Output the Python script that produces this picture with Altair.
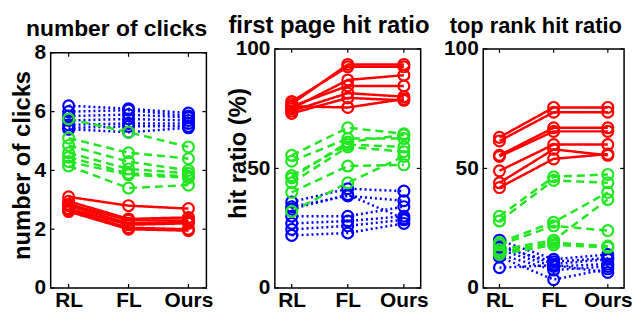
import altair as alt
import pandas as pd

cats = ["RL", "FL", "Ours"]
cat_pos = [1, 2, 3]
groups = ["blue", "green", "red"]

# number of clicks
clicks_red_RL = [3.1, 2.95, 2.85, 2.8, 2.7, 2.65, 2.6]
clicks_red_FL = [2.8, 2.35, 2.3, 2.2, 2.15, 2.05, 2.0]
clicks_red_Ours = [2.7, 2.4, 2.3, 2.25, 2.2, 2.0, 1.95]
clicks_green_RL = [5.75, 5.1, 4.85, 4.6, 4.45, 4.3, 4.15]
clicks_green_FL = [5.3, 4.6, 4.3, 4.05, 3.9, 3.85, 3.4]
clicks_green_Ours = [4.8, 4.4, 4.0, 3.9, 3.8, 3.75, 3.5]
clicks_blue_RL = [6.2, 6.0, 5.85, 5.7, 5.55, 5.45, 5.4]
clicks_blue_FL = [6.1, 6.05, 5.9, 5.75, 5.6, 5.5, 5.3]
clicks_blue_Ours = [5.95, 5.85, 5.8, 5.7, 5.6, 5.5, 5.45]

# first page hit ratio (%)
fp_red_RL = [77, 78, 75, 76, 74, 73, 76]
fp_red_FL = [93.5, 92.5, 87, 84.5, 81.5, 79.5, 75.5]
fp_red_Ours = [93.5, 92.5, 89, 84.5, 80, 78.5, 79]
fp_green_RL = [55.5, 53, 47, 44, 40, 32, 46]
fp_green_FL = [67, 62.5, 60, 59, 51, 44, 61]
fp_green_Ours = [64.5, 62.5, 59, 57, 51.5, 55, 64]
fp_blue_RL = [36, 34, 30, 27, 24.5, 22, 33]
fp_blue_FL = [41.5, 38.5, 30, 28, 26, 23, 39]
fp_blue_Ours = [40.5, 36.5, 34, 30, 28.5, 27, 29]

# top rank hit ratio (%)
tr_red_RL = [63, 61.5, 55.5, 55, 49, 44, 42]
tr_red_FL = [75.5, 73.5, 67, 65.5, 60, 58, 54]
tr_red_Ours = [75.5, 73.5, 67, 65.5, 60, 55.5, 56]
tr_green_RL = [30, 28, 19, 18, 16, 14, 15]
tr_green_FL = [46.5, 45, 27.5, 26, 20, 18, 19]
tr_green_Ours = [47.5, 44, 40, 24, 37, 17, 17.5]
tr_blue_RL = [20, 18, 16, 14, 13, 8.5, 17]
tr_blue_FL = [12, 10, 9, 7.5, 3.5, 9.5, 11]
tr_blue_Ours = [14, 12, 10, 9, 8, 6.5, 12.5]

panel_titles = ["number of clicks", "first page hit ratio", "top rank hit ratio"]
y_titles = ["number of clicks", "hit ratio (%)", ""]
y_ticks = [[0, 2, 4, 6, 8], [0, 50, 100], [0, 50, 100]]
y_domains = [[0, 8], [0, 100], [0, 100]]

panel_data = [
    {"red": [clicks_red_RL, clicks_red_FL, clicks_red_Ours],
     "green": [clicks_green_RL, clicks_green_FL, clicks_green_Ours],
     "blue": [clicks_blue_RL, clicks_blue_FL, clicks_blue_Ours]},
    {"red": [fp_red_RL, fp_red_FL, fp_red_Ours],
     "green": [fp_green_RL, fp_green_FL, fp_green_Ours],
     "blue": [fp_blue_RL, fp_blue_FL, fp_blue_Ours]},
    {"red": [tr_red_RL, tr_red_FL, tr_red_Ours],
     "green": [tr_green_RL, tr_green_FL, tr_green_Ours],
     "blue": [tr_blue_RL, tr_blue_FL, tr_blue_Ours]},
]

color_scale = alt.Scale(domain=["red", "green", "blue"],
                        range=["#ff0000", "#22e622", "#0000ff"])
dash_scale = alt.Scale(domain=["red", "green", "blue"],
                       range=[[1, 0], [8, 5], [2, 3]])

FONT = "Liberation Sans"
H = 243
widths = [157, 147, 142]
top_inset = [6, 2, 2]
title_sizes = [23, 24, 22]
title_dx = [-12, -19, -18]
title_x = [-28, -37, -30]
title_y = [119, 107, 119]

label_expr = "datum.value == 1 ? 'RL' : datum.value == 2 ? 'FL' : 'Ours'"


def make_panel(i):
    W = widths[i]
    T = top_inset[i]
    rows = []
    for g in groups:
        series = panel_data[i][g]
        for s in range(len(series[0])):
            for c in range(3):
                rows.append({"pos": cat_pos[c], "val": series[c][s],
                             "grp": g, "sid": f"{g}{s}", "ord": c})
    df = pd.DataFrame(rows)
    xs = alt.Scale(domain=[0.7, 3.3], nice=False, zero=False)
    ys = alt.Scale(domain=y_domains[i], nice=False, range=[H, T])

    xaxis = alt.Axis(values=cat_pos, labelExpr=label_expr, title=None,
                     grid=False, ticks=False, domain=False,
                     labelFontSize=21, labelFontWeight="bold", labelFont=FONT,
                     labelPadding=2, labelColor="black")
    yaxis = alt.Axis(values=y_ticks[i], grid=False, ticks=False, domain=False,
                     labelFontSize=21, labelFontWeight="bold", labelFont=FONT,
                     labelPadding=5, labelColor="black",
                     title=y_titles[i] if y_titles[i] else None,
                     titleFontSize=24, titleFontWeight="bold", titleFont=FONT,
                     titleColor="black", titleX=title_x[i],
                     titleY=title_y[i],
                     titleBaseline="middle", titleAngle=-90,
                     labelOverlap=False)

    base = alt.Chart(df)
    lines = base.mark_line(strokeWidth=2.5).encode(
        x=alt.X("pos:Q", scale=xs, axis=xaxis),
        y=alt.Y("val:Q", scale=ys, axis=yaxis),
        color=alt.Color("grp:N", scale=color_scale, legend=None),
        strokeDash=alt.StrokeDash("grp:N", scale=dash_scale, legend=None),
        detail="sid:N",
        order="ord:Q",
    )
    pts = base.mark_point(shape="circle", filled=False, size=120,
                          strokeWidth=2.2, opacity=1).encode(
        x=alt.X("pos:Q", scale=xs),
        y=alt.Y("val:Q", scale=ys),
        color=alt.Color("grp:N", scale=color_scale, legend=None),
    )
    xt = pd.DataFrame({"pos": cat_pos})
    yt = pd.DataFrame({"val": y_ticks[i]})
    tick_b = alt.Chart(xt).mark_rule(color="black", strokeWidth=1.2).encode(
        x=alt.X("pos:Q", scale=xs), y=alt.value(H), y2=alt.value(H - 4))
    tick_t = alt.Chart(xt).mark_rule(color="black", strokeWidth=1.2).encode(
        x=alt.X("pos:Q", scale=xs), y=alt.value(T), y2=alt.value(T + 4))
    tick_l = alt.Chart(yt).mark_rule(color="black", strokeWidth=1.2).encode(
        y=alt.Y("val:Q", scale=ys), x=alt.value(0), x2=alt.value(4))
    tick_r = alt.Chart(yt).mark_rule(color="black", strokeWidth=1.2).encode(
        y=alt.Y("val:Q", scale=ys), x=alt.value(W), x2=alt.value(W - 4))
    frame = alt.Chart(pd.DataFrame({"f": [0]})).mark_rect(
        filled=False, stroke="black", strokeWidth=1.5).encode(
        x=alt.value(0), x2=alt.value(W), y=alt.value(T), y2=alt.value(H))

    return alt.layer(lines, pts, tick_b, tick_t, tick_l, tick_r, frame).properties(
        width=W, height=H,
        title=alt.TitleParams(panel_titles[i], fontSize=title_sizes[i],
                              fontWeight="bold", font=FONT, color="black",
                              anchor="middle", offset=0.5, dx=title_dx[i]),
    )


chart = alt.hconcat(make_panel(0), make_panel(1), make_panel(2),
                    spacing=13).properties(
    padding={"left": 2, "top": 4, "right": 0, "bottom": 0}
).configure(background="white").configure_view(stroke=None)

chart.save("out.html", embed_options={"renderer": "svg", "actions": False})
